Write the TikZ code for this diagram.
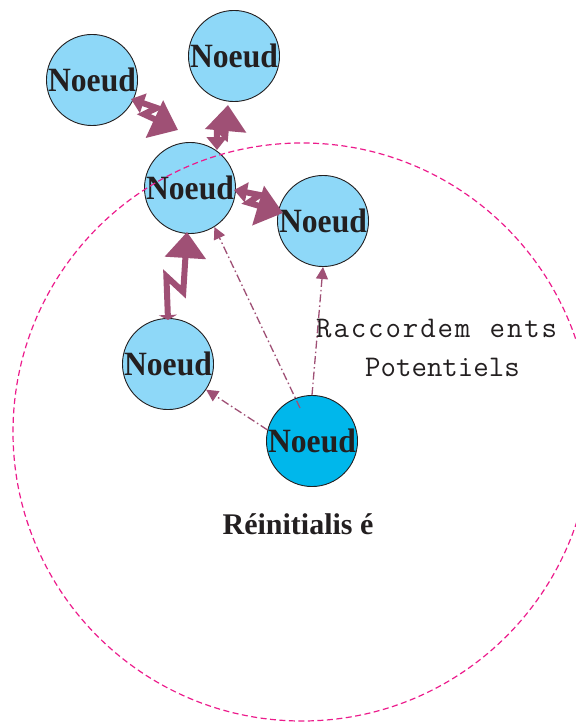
\documentclass[tikz,border=0pt]{standalone}
\usepackage{graphicx}
\usepackage{fontspec}
\setmainfont{Liberation Serif}
\usetikzlibrary{arrows.meta,calc}

\definecolor{boltc}{RGB}{159,80,117}
\definecolor{ringc}{RGB}{236,28,140}
\definecolor{nodec}{RGB}{142,216,248}
\definecolor{resetc}{RGB}{0,183,235}
\definecolor{inkc}{RGB}{35,31,32}

\makeatletter
\newcommand\spreadtext[2]{\@tfor\spr@c:=#2\do{\spr@c\kern#1}}
\makeatother

\tikzset{
  bigtip/.tip={Triangle[length=26pt,width=40pt]},
  smalltip/.tip={Triangle[length=13pt,width=20pt]},
  bartip/.tip={Triangle[length=5pt,width=18pt]},
  thintip/.tip={Triangle[length=12pt,width=12pt]},
}

\begin{document}
\begin{tikzpicture}[x=1pt,y=-1pt,
  noeud/.style={circle, draw=inkc, line width=0.9pt, fill=nodec, minimum size=87pt,
    inner sep=0pt, text=inkc, font=\bfseries\fontsize{34}{34}\selectfont},
  resetnode/.style={noeud, fill=resetc},
  bolt/.style={draw=boltc, line width=6pt, line join=miter, miter limit=8,
    to path={-- ($(\tikztostart)!0.485!14.3:(\tikztotarget)$)
             -- ($(\tikztostart)!0.354!-16.4:(\tikztotarget)$)
             -- (\tikztotarget)}},
  ddash/.style={draw=boltc, line width=1.3pt,
    dash pattern=on 8pt off 3pt on 1.5pt off 3pt, -{thintip}},
  ring/.style={draw=ringc, line width=1.2pt, dash pattern=on 6pt off 3.5pt},
  label/.style={inner sep=0pt, text=inkc},
]
\useasboundingbox (0,0) rectangle (575,727);

% nodes
\node[noeud] (n1) at (92,80) {\scalebox{0.93}[1]{Noeud}};
\node[noeud] (n2) at (234,56) {\scalebox{0.93}[1]{Noeud}};
\node[noeud] (n3) at (190,188) {\scalebox{0.93}[1]{Noeud}};
\node[noeud] (n4) at (323,221) {\scalebox{0.93}[1]{Noeud}};
\node[noeud] (n5) at (168,364) {\scalebox{0.93}[1]{Noeud}};
\node[resetnode] (n6) at (312,441) {\scalebox{0.93}[1]{Noeud}};

% bolt end points
\path (n1.center) ++(39,19) coordinate (aS);
\path (n3.center) ++(-12,-58) coordinate (aT);
\path (n3.center) ++(27,-38) coordinate (bS);
\path (n2.center) ++(-6,49) coordinate (bT);
\path (n3.center) ++(44,2) coordinate (cS);
\path (n4.center) ++(-40,-8) coordinate (cT);
\path (n5.center) ++(0,-44) coordinate (dS);
\path (n3.center) ++(-3,44) coordinate (dT);
\path (n6.center) ++(-12,-33) coordinate (fS);

% lightning connectors
\draw[bolt, {smalltip}-{bigtip}] (aS) to (aT);
\draw[bolt, {smalltip}-{bigtip}] (bS) to (bT);
\draw[bolt, {smalltip}-{bigtip}] (cS) to (cT);
\draw[bolt, {bartip}-{bigtip}] (dS) to (dT);

% potential connections
\draw[ddash] (n6.166) -- (n5.-34);
\draw[ddash] (fS) -- (n3.-58);
\draw[ddash] (n6.north) -- (n4.south);

% range circle
\draw[ring] (302,432) circle[radius=289pt];

% labels
\node[label, font=\bfseries\fontsize{30}{30}\selectfont] (reinit) at (298,524) {Réinitialis é};
\node[label, anchor=base west, font=\ttfamily\fontsize{30}{30}\selectfont] (racc) at (316,337) {\spreadtext{1.9pt}{Raccordem\ ents}};
\node[label, anchor=base west, font=\ttfamily\fontsize{30}{30}\selectfont] (pot) at (365,376) {Potentiels};
\end{tikzpicture}
\end{document}
